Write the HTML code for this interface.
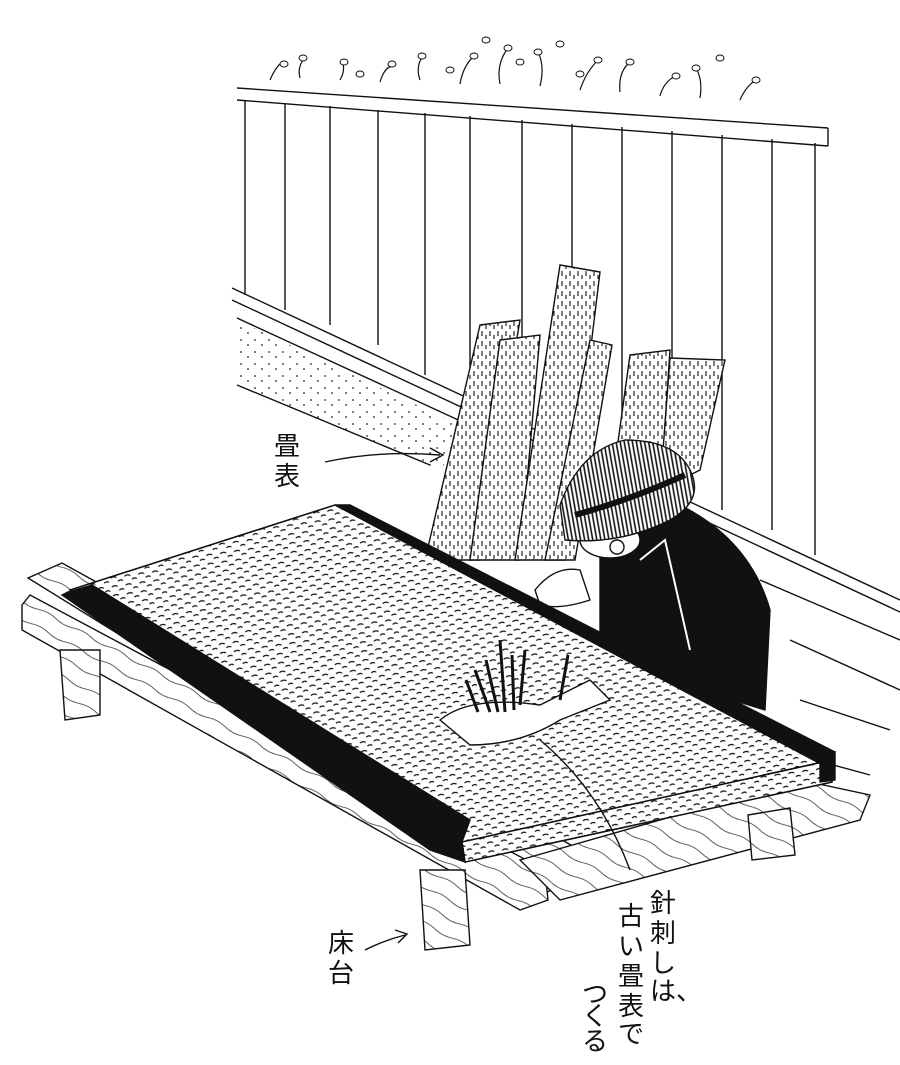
<!DOCTYPE html>
<html><head><meta charset="utf-8"><style>
html,body{margin:0;padding:0;background:#fff;}
svg{display:block}
.t{font-family:"Liberation Sans","Noto Sans CJK JP",sans-serif;font-size:26px;fill:#111}
</style></head><body>
<svg width="900" height="1065" viewBox="0 0 900 1065" xmlns="http://www.w3.org/2000/svg">
<defs>
<pattern id="mat" width="14" height="9" patternUnits="userSpaceOnUse" patternTransform="rotate(-8)">
<path d="M1 3 q3 -2 6 0 M8 7 q3 -2 5 0" stroke="#111" stroke-width="1.2" fill="none"/>
</pattern>
<pattern id="roll" width="8" height="10" patternUnits="userSpaceOnUse">
<rect width="8" height="10" fill="#fff"/>
<path d="M2 1 v5 M6 5 v4" stroke="#111" stroke-width="1.1"/>
</pattern>
<pattern id="dots" width="14" height="12" patternUnits="userSpaceOnUse">
<circle cx="3" cy="4" r="0.9" fill="#222"/><circle cx="10" cy="9" r="0.9" fill="#222"/>
</pattern>
<pattern id="hat" width="4" height="4" patternUnits="userSpaceOnUse" patternTransform="rotate(80)">
<rect width="4" height="4" fill="#fff"/>
<path d="M0 2 h4" stroke="#111" stroke-width="1.6"/>
</pattern>
<pattern id="wood" width="40" height="16" patternUnits="userSpaceOnUse" patternTransform="rotate(28)">
<rect width="40" height="16" fill="#fff"/>
<path d="M0 8 q10 -3 20 0 t20 0" stroke="#333" stroke-width="0.8" fill="none"/>
</pattern>
</defs>
<g stroke="#111" stroke-width="1.4" fill="none">
<g stroke-width="1.2">
<path d="M270 80 q5 -12 12 -18 M300 78 q-3 -12 5 -20 M340 80 q6 -10 2 -20 M380 82 q4 -14 12 -16 M420 80 q-5 -15 4 -25 M460 84 q3 -18 14 -28 M500 84 q-4 -20 8 -36 M540 86 q5 -20 -2 -34 M580 90 q6 -18 18 -30 M620 92 q-2 -20 10 -30 M660 96 q4 -15 16 -20 M700 98 q3 -18 -4 -30 M740 100 q6 -14 16 -20"/>
</g>
<g fill="#fff" stroke-width="1">
<ellipse cx="284" cy="64" rx="4" ry="3"/><ellipse cx="303" cy="58" rx="4" ry="3"/><ellipse cx="344" cy="62" rx="4" ry="3"/><ellipse cx="392" cy="64" rx="4" ry="3"/><ellipse cx="422" cy="56" rx="4" ry="3"/><ellipse cx="474" cy="56" rx="4" ry="3"/><ellipse cx="486" cy="40" rx="4" ry="3"/><ellipse cx="508" cy="48" rx="4" ry="3"/><ellipse cx="520" cy="62" rx="4" ry="3"/><ellipse cx="538" cy="52" rx="4" ry="3"/><ellipse cx="560" cy="44" rx="4" ry="3"/><ellipse cx="598" cy="60" rx="4" ry="3"/><ellipse cx="630" cy="62" rx="4" ry="3"/><ellipse cx="676" cy="76" rx="4" ry="3"/><ellipse cx="696" cy="68" rx="4" ry="3"/><ellipse cx="720" cy="58" rx="4" ry="3"/><ellipse cx="756" cy="80" rx="4" ry="3"/><ellipse cx="450" cy="70" rx="4" ry="3"/><ellipse cx="580" cy="74" rx="4" ry="3"/><ellipse cx="360" cy="74" rx="4" ry="3"/>
</g>
<path d="M237 88 L828 128 M237 100 L828 146 M828 128 L828 146"/>
<path d="M245 100 V295 M285 103 V310 M330 106 V325 M378 110 V345 M425 113 V375 M470 116 V405 M522 120 V420 M572 124 V440 M622 127 V460 M672 131 V480 M722 135 V510 M772 139 V530 M815 143 V555"/>
<path d="M232 288 L900 600 M232 300 L900 612"/>
<path d="M237 318 L480 430 M237 385 L430 465"/>
<path d="M237 320 L470 430 L440 470 L237 385 Z" fill="url(#dots)" stroke="none"/>
<path d="M760 580 L900 640 M790 640 L900 690 M800 700 L890 730"/>
<g fill="url(#roll)">
<path d="M480 325 L520 320 L480 560 L425 560 Z"/>
<path d="M500 340 L540 335 L520 560 L470 560 Z"/>
<path d="M560 265 L600 272 L565 560 L515 560 Z"/>
<path d="M590 340 L612 345 L575 560 L545 560 Z"/>
<path d="M630 355 L670 350 L660 500 L610 500 Z"/>
<path d="M670 358 L725 360 L700 470 L660 490 Z"/>
</g>
<path d="M600 540 L680 505 Q750 540 770 610 L765 710 L700 690 L600 640 Z" fill="#111"/>
<path d="M640 560 L665 540 L690 650" stroke="#fff" stroke-width="2"/>
<ellipse cx="610" cy="540" rx="30" ry="18" fill="#fff"/>
<circle cx="617" cy="547" r="7"/>
<path d="M560 505 Q580 450 625 440 Q675 440 690 470 Q705 500 670 520 Q620 545 565 540 Z" fill="url(#hat)"/>
<path d="M575 515 Q630 500 685 475" stroke-width="6"/>
<path d="M535 590 q20 -25 45 -20 l10 30 q-30 10 -50 5 Z" fill="#fff"/>
<g fill="url(#wood)">
<path d="M28 578 L62 563 L580 850 L575 880 L540 895 Z"/>
<path d="M22 605 L30 595 L545 870 L548 900 L520 910 L22 630 Z"/>
<path d="M60 650 L100 650 L100 715 L65 720 Z"/>
<path d="M420 870 L465 870 L470 945 L425 950 Z"/>
<path d="M520 860 L800 780 L870 795 L860 820 L560 900 Z"/>
<path d="M748 815 L790 808 L795 855 L752 860 Z"/>
</g>
<path d="M70 590 L335 505 L832 760 L462 842 Z" fill="#fff"/>
<path d="M70 590 L335 505 L832 760 L462 842 Z" fill="url(#mat)"/>
<path d="M462 842 L832 760 L832 782 L465 862 Z" fill="#fff"/>
<path d="M462 842 L832 760 L832 782 L465 862 Z" fill="url(#mat)"/>
<path d="M68 592 L92 585 L470 820 L462 842 Z" fill="#111"/>
<path d="M62 595 L68 592 L462 842 L465 862 L430 850 Z" fill="#111"/>
<path d="M335 505 L350 505 L835 752 L832 770 Z" fill="#111"/>
<path d="M820 760 L835 752 L835 780 L820 782 Z" fill="#111"/>
<path d="M440 720 Q470 695 540 705 L590 680 L610 700 L560 720 Q520 745 470 745 Z" fill="#fff"/>
<path d="M475 670 L490 712 M486 660 L498 712 M500 640 L505 712 M512 655 L514 710 M525 650 L520 705 M568 655 L560 700 M466 680 L478 712" stroke-width="3"/>
<path d="M325 462 Q380 450 440 455 M430 448 L443 455 L430 462"/>
<path d="M365 950 Q385 940 405 935 M395 930 L407 934 L398 943"/>
<path d="M540 740 Q600 790 630 870"/>
<path d="M815 760 L870 775"/>
</g>
<text class="t" x="274" y="455">畳</text>
<text class="t" x="274" y="485">表</text>
<text class="t" x="328" y="952">床</text>
<text class="t" x="328" y="982">台</text>
<g class="t">
<text x="650" y="912">針</text><text x="650" y="942">刺</text><text x="650" y="972">し</text><text x="650" y="1000">は、</text>
<text x="618" y="925">古</text><text x="618" y="955">い</text><text x="618" y="985">畳</text><text x="618" y="1015">表</text><text x="618" y="1043">で</text>
<text x="582" y="1003">つ</text><text x="582" y="1025">く</text><text x="582" y="1050">る</text>
</g>
</svg>
</body></html>
